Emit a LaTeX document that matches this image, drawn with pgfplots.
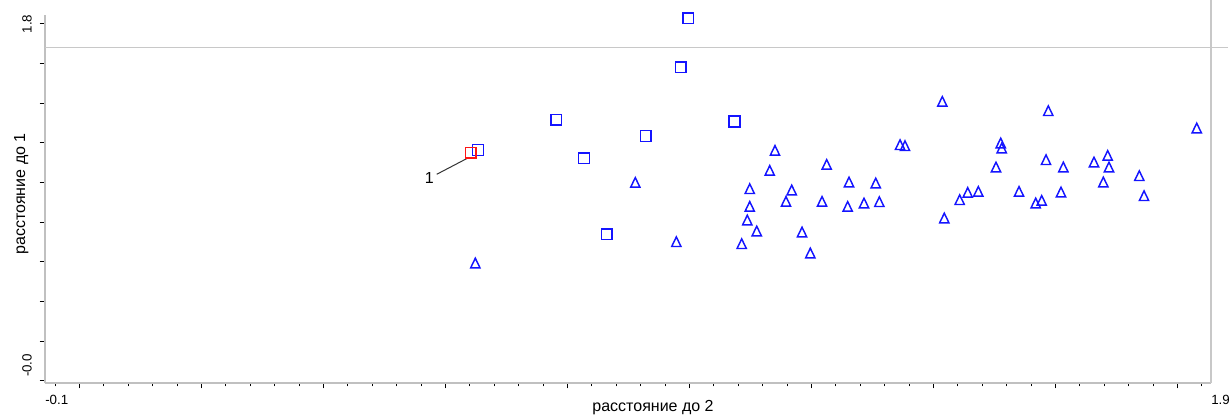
\documentclass[border=0pt]{standalone}
\usepackage{pgfplots}
\pgfplotsset{compat=1.18}
\usepackage{fontspec}
\setmainfont{Liberation Sans}
\definecolor{axgray}{RGB}{192,192,192}
\definecolor{refgray}{RGB}{200,200,200}
\definecolor{mblue}{RGB}{20,20,255}
\definecolor{mred}{RGB}{255,20,20}
\begin{document}
\begin{tikzpicture}[x=1pt,y=1pt]
\useasboundingbox (0,0) rectangle (922.5,312.75);
\begin{axis}[
  at={(33.75pt,25.5pt)}, anchor=south west,
  scale only axis, width=874.5pt, height=276pt,
  xmin=-0.1, xmax=1.9, ymin=-0.0101, ymax=1.8454,
  axis x line=bottom, axis y line=left,
  axis line style={-, draw=axgray, line width=1.5pt},
  clip=false,
  tick align=outside,
  tick style={black, line width=0.75pt},
  major tick length=4pt, minor tick length=2.5pt,
  xtick={-0.04082,0.16844,...,1.86},
  xticklabels={},
  minor xtick={-0.08268,-0.04083,...,1.9},
  extra x ticks={-0.1,1.9},
  extra x tick labels={-0.1,1.9},
  extra x tick style={major tick length=0pt, xticklabel style={anchor=base west, inner sep=0pt, yshift=-16.5pt}},
  xticklabel style={font=\fontsize{10}{12}\selectfont},
  ytick={0,0.2,0.4,0.6,0.8,1.0,1.2,1.4,1.6,1.8},
  yticklabels={{\makebox[0pt][l]{\hspace{3pt}-0.0}},{},{},{},{},{},{},{},{},{\makebox[0pt][c]{1.8}}},
  yticklabel style={font=\fontsize{10}{12}\selectfont, xshift=-6pt, rotate=90, anchor=base},
  xlabel={расстояние до 2},
  xlabel style={at={(axis cs:0.9429,-0.1563)}, anchor=base, font=\fontsize{12}{14}\selectfont},
  ylabel={расстояние до 1},
  ylabel style={at={(axis cs:-0.1343,0.9428)}, anchor=base, font=\fontsize{12}{14}\selectfont},
]
% reference line and right frame
\draw[refgray, line width=0.75pt] (axis cs:-0.1,1.6805) -- (axis cs:1.929,1.6805);
\draw[refgray, line width=0.9pt] (axis cs:1.9,-0.0101) -- (axis cs:1.9,1.921);
% squares
\addplot[only marks, color=mblue, mark=square, mark size=4.0pt, mark options={solid, line width=1.1pt}] coordinates {
(1.0034,1.8287) (0.9904,1.5817) (0.7770,1.3175) (1.0827,1.3084)
(0.9304,1.2353) (0.8245,1.1229) (0.6427,1.1647) (0.8635,0.7397)
};
% triangles
\addplot[only marks, color=mblue, mark=triangle, mark size=4.0pt, mark options={solid, line width=1.1pt, yscale=1.2}] coordinates {
(0.6381,0.5869) (0.9125,0.9933) (0.9829,0.6943) (1.0950,0.6842) (1.1046,0.8037)
(1.1088,0.9615) (1.1088,0.8723) (1.1208,0.7482) (1.1431,1.0538) (1.1521,1.1546)
(1.1710,0.8975) (1.1808,0.9549) (1.1985,0.7432) (1.2127,0.6373) (1.2328,0.8975)
(1.2408,1.0840) (1.2791,0.9953) (1.2768,0.8723) (1.3048,0.8894) (1.3249,0.9902)
(1.3311,0.8960) (1.3666,1.1834) (1.3751,1.1783) (1.4391,1.4017) (1.4425,0.8138)
(1.4689,0.9060) (1.4827,0.9428) (1.5009,0.9479) (1.5312,1.0709) (1.5393,1.1919)
(1.5410,1.1667) (1.5707,0.9479) (1.5993,0.8894) (1.6096,0.9025) (1.6170,1.1077)
(1.6209,1.3548) (1.6427,0.9449) (1.6467,1.0709) (1.6993,1.0961) (1.7153,0.9953)
(1.7228,1.1294) (1.7250,1.0709) (1.7770,1.0271) (1.7851,0.9262) (1.8755,1.2676)
};
% highlighted point
\addplot[only marks, color=mred, mark=square, mark size=4.0pt, mark options={solid, line width=1.1pt}] coordinates {(0.6302,1.1511)};
\draw[black!80, line width=0.75pt] (axis cs:0.5719,1.0422) -- (axis cs:0.6244,1.1229);
\node[font=\fontsize{12}{14}\selectfont, anchor=center] at (axis cs:0.5592,1.0250) {1};
\end{axis}
\end{tikzpicture}
\end{document}
